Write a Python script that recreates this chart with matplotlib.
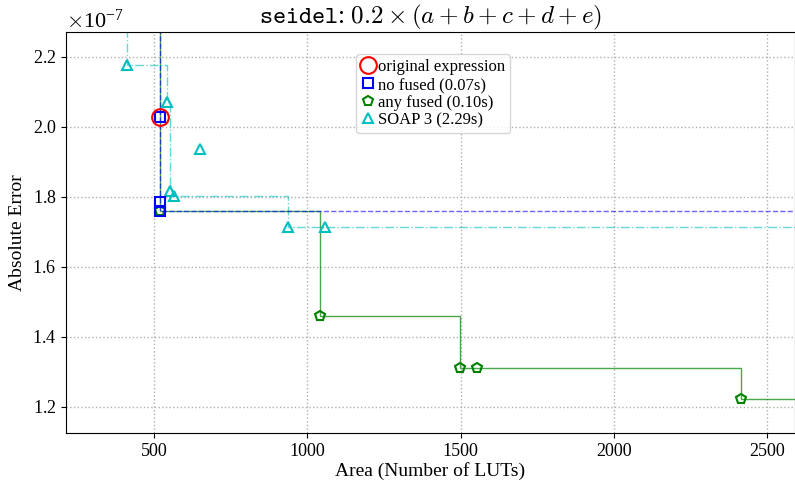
import matplotlib
matplotlib.use("Agg")
import matplotlib.pyplot as plt
from matplotlib.lines import Line2D

plt.rcParams["font.family"] = ["Liberation Serif", "DejaVu Serif"]
plt.rcParams["mathtext.fontset"] = "cm"

# values (errors in units of 1e-7)
orig_x = [520]
orig_y = [2.028]
nofused_x = [520, 520, 520]
nofused_y = [2.028, 1.787, 1.759]
anyfused_x = [520, 1040, 1498, 1555, 2416]
anyfused_y = [1.759, 1.461, 1.311, 1.311, 1.222]
soap_x = [412, 543, 553, 564, 649, 936, 1058]
soap_y = [2.177, 2.072, 1.818, 1.804, 1.937, 1.713, 1.713]

labels = ["original expression", "no fused (0.07s)", "any fused (0.10s)", "SOAP 3 (2.29s)"]


def pareto(xs, ys):
    pts = sorted(zip(xs, ys))
    fx, fy = [], []
    best = float("inf")
    for x, y in pts:
        if y < best:
            fx.append(x)
            fy.append(y)
            best = y
    # extend to the top and to the right of the plot
    fx = [fx[0]] + fx + [1e5]
    fy = [1e3] + fy + [fy[-1]]
    return fx, [v * 1e-7 for v in fy]


fig = plt.figure(figsize=(7.95, 4.82), dpi=100)
ax = fig.add_axes([0.083, 0.1017, 0.917, 0.832])

ax.grid(True, linestyle=":", color="#b0b0b0", linewidth=1.0)
ax.set_axisbelow(True)

# step fronts
fx, fy = pareto(soap_x, soap_y)
ax.step(fx, fy, where="post", color="c", linestyle="-.", linewidth=1.0, alpha=0.6)
fx, fy = pareto(anyfused_x, anyfused_y)
ax.step(fx, fy, where="post", color="g", linestyle="-", linewidth=1.0, alpha=0.7)
fx, fy = pareto(nofused_x, nofused_y)
ax.step(fx, fy, where="post", color="b", linestyle="--", linewidth=1.0, alpha=0.6)

# markers
ax.plot(soap_x, [v * 1e-7 for v in soap_y], "^", color="c", mfc="none", ms=7, mew=1.5)
ax.plot(anyfused_x, [v * 1e-7 for v in anyfused_y], "p", color="g", mfc="none", ms=7, mew=1.5)
ax.plot(nofused_x, [v * 1e-7 for v in nofused_y], "s", color="b", mfc="none", ms=7, mew=1.5)
ax.plot(orig_x, [v * 1e-7 for v in orig_y], "o", color="r", mfc="none", ms=12, mew=1.5)

ax.set_xlim(213, 2591)
ax.set_ylim(1.1257e-7, 2.2714e-7)
ax.set_xticks([500, 1000, 1500, 2000, 2500])
ax.set_yticks([1.2e-7, 1.4e-7, 1.6e-7, 1.8e-7, 2.0e-7, 2.2e-7])
ax.ticklabel_format(axis="y", style="sci", scilimits=(0, 0), useMathText=True)
ax.yaxis.get_offset_text().set_fontsize(16)
ax.tick_params(labelsize=13)

ax.set_xlabel("Area (Number of LUTs)", fontsize=14, labelpad=2)
ax.set_ylabel("Absolute Error", fontsize=14)
ax.set_title(r"$\mathtt{seidel}$: $0.2\times(a+b+c+d+e)$", fontsize=18, pad=4)

handles = [
    Line2D([], [], marker="o", color="r", mfc="none", ms=12, mew=1.5, linestyle="none"),
    Line2D([], [], marker="s", color="b", mfc="none", ms=7, mew=1.5, linestyle="none"),
    Line2D([], [], marker="p", color="g", mfc="none", ms=7, mew=1.5, linestyle="none"),
    Line2D([], [], marker="^", color="c", mfc="none", ms=7, mew=1.5, linestyle="none"),
]
ax.legend(handles, labels, loc="upper left", bbox_to_anchor=(0.387, 0.965), fontsize=12,
          handlelength=0.8, handletextpad=0.2, borderpad=0.3, labelspacing=0.1)

fig.savefig("out.png", dpi=100)
